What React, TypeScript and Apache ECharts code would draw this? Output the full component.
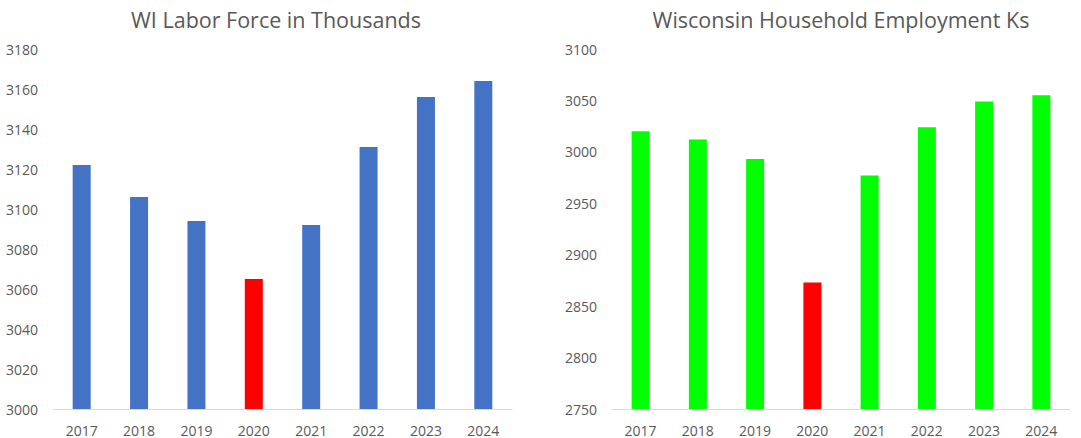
import React, { useEffect, useRef } from "react";
import * as echarts from "echarts";

const years = ["2017", "2018", "2019", "2020", "2021", "2022", "2023", "2024"];
const laborForce = [3122, 3106, 3094, 3065, 3092, 3131, 3156, 3164];
const employment = [3020, 3012, 2993, 2873, 2977, 3024, 3049, 3055];
const highlightYear = "2020";

const leftTitle = "WI Labor Force in Thousands";
const rightTitle = "Wisconsin Household Employment Ks";

const BLUE = "#4472C4";
const GREEN = "#00FF00";
const RED = "#FF0000";
const TEXT = "#595959";
const FONT = "'Open Sans', sans-serif";

export default function App() {
  const ref = useRef<HTMLDivElement>(null);
  useEffect(() => {
    if (!ref.current) return;
    const chart = echarts.init(ref.current, null, { renderer: "svg" });
    const mkData = (vals: number[], base: string) =>
      vals.map((v, i) => ({
        value: v,
        itemStyle: { color: years[i] === highlightYear ? RED : base },
      }));
    const axisLabel = { color: TEXT, fontSize: 14, fontFamily: FONT };
    const titleStyle = { color: TEXT, fontSize: 21.5, fontWeight: "normal", fontFamily: FONT };
    chart.setOption({
      animation: false,
      backgroundColor: "#ffffff",
      title: [
        { text: leftTitle, left: 271, top: 3, textAlign: "center", textStyle: titleStyle },
        { text: rightTitle, left: 836, top: 3, textAlign: "center", textStyle: titleStyle },
      ],
      grid: [
        { left: 53, top: 49, width: 459, height: 360 },
        { left: 612, top: 49, width: 458, height: 360 },
      ],
      xAxis: [0, 1].map((g) => ({
        type: "category",
        gridIndex: g,
        data: years,
        axisLine: { lineStyle: { color: "#D9D9D9", width: 1 } },
        axisTick: { show: false },
        axisLabel: { ...axisLabel, margin: 14 },
      })),
      yAxis: [
        {
          type: "value",
          gridIndex: 0,
          min: 3000,
          max: 3180,
          interval: 20,
          splitLine: { show: false },
          axisLine: { show: false },
          axisTick: { show: false },
          axisLabel: { ...axisLabel, margin: 15, formatter: (v: number) => String(v) },
        },
        {
          type: "value",
          gridIndex: 1,
          min: 2750,
          max: 3100,
          interval: 50,
          splitLine: { show: false },
          axisLine: { show: false },
          axisTick: { show: false },
          axisLabel: { ...axisLabel, margin: 15, formatter: (v: number) => String(v) },
        },
      ],
      series: [
        { type: "bar", xAxisIndex: 0, yAxisIndex: 0, barWidth: 18, data: mkData(laborForce, BLUE) },
        { type: "bar", xAxisIndex: 1, yAxisIndex: 1, barWidth: 18, data: mkData(employment, GREEN) },
      ],
    });
    return () => chart.dispose();
  }, []);
  return (
    <div
      ref={ref}
      style={{ position: "fixed", left: 0, top: 0, width: 1081, height: 438, background: "#fff" }}
    />
  );
}
